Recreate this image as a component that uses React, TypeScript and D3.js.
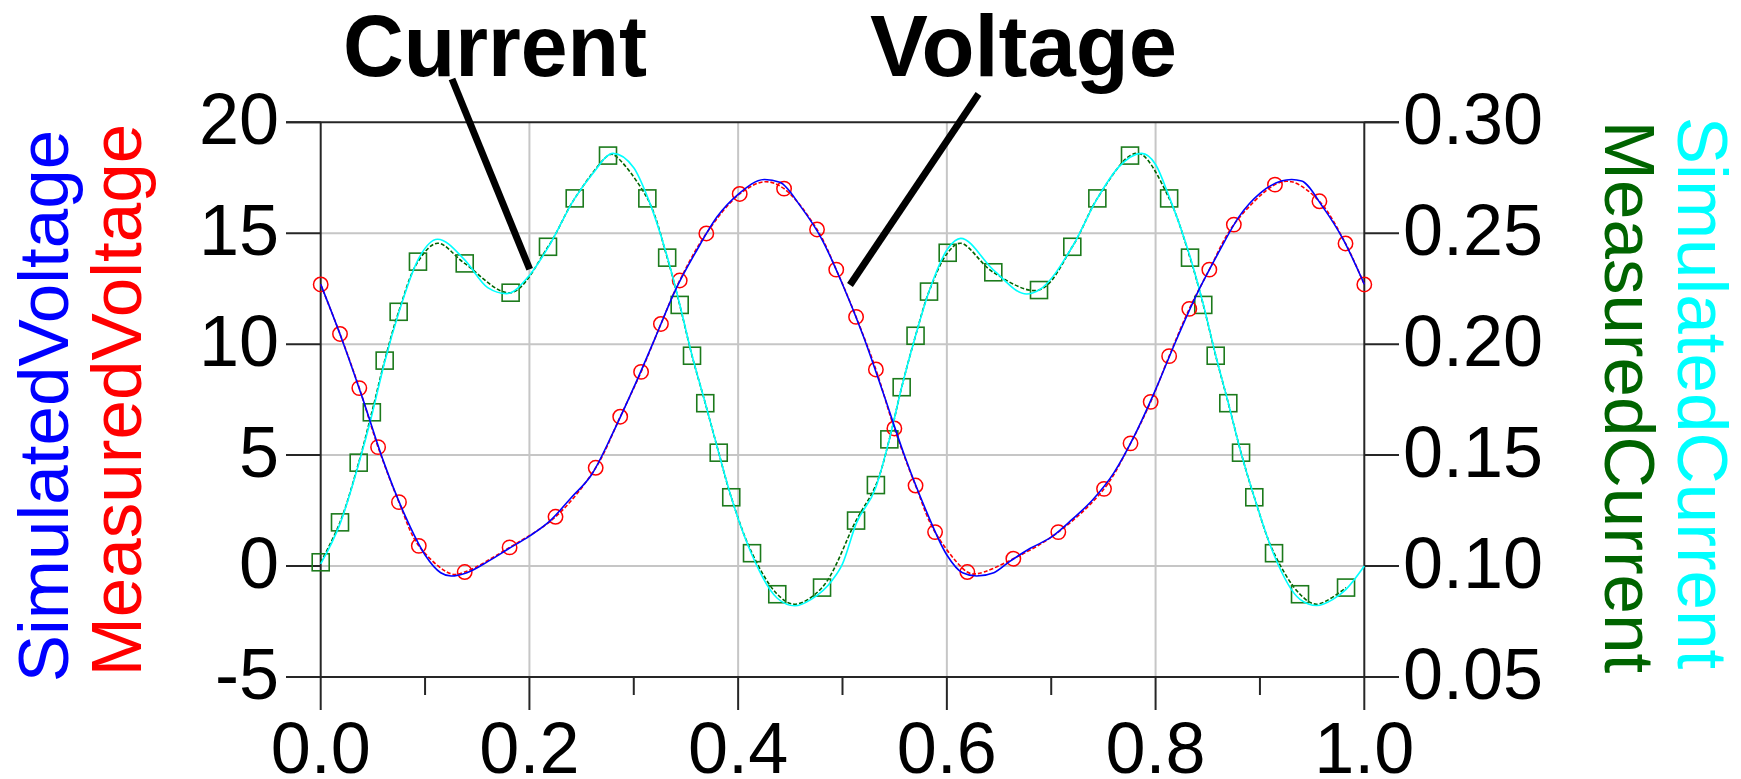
import React from "react";
import * as d3 from "d3";

// ---- data -------------------------------------------------------------
// Measured voltage samples (markers)
const measuredVoltageX = [0, 0.0185, 0.037, 0.055, 0.075, 0.094, 0.138, 0.181, 0.225, 0.2635, 0.287, 0.307, 0.326, 0.344, 0.3695, 0.4015, 0.444, 0.4756, 0.494, 0.513, 0.532, 0.5497, 0.57, 0.5887, 0.6196, 0.6637, 0.7068, 0.7506, 0.776, 0.7953, 0.813, 0.8323, 0.8515, 0.875, 0.9144, 0.957, 0.982, 1.0];
const measuredVoltageY = [12.69, 10.46, 8.02, 5.36, 2.88, 0.91, -0.27, 0.84, 2.22, 4.43, 6.73, 8.75, 10.91, 12.87, 14.99, 16.77, 17.01, 15.17, 13.36, 11.23, 8.86, 6.2, 3.63, 1.53, -0.27, 0.33, 1.53, 3.48, 5.53, 7.4, 9.46, 11.59, 13.36, 15.39, 17.19, 16.44, 14.54, 12.69];
// extra points of the measured voltage trace between markers
const measuredVoltageTraceX = [0.125, 0.4254, 0.6286, 0.9304];
const measuredVoltageTraceY = [-0.35, 17.32, -0.35, 17.32];

// Measured current samples (markers)
const measuredCurrentX = [0, 0.0185, 0.0364, 0.049, 0.0613, 0.0747, 0.0932, 0.138, 0.182, 0.2178, 0.2434, 0.2753, 0.313, 0.332, 0.344, 0.3558, 0.3685, 0.3814, 0.3934, 0.4133, 0.4375, 0.4804, 0.513, 0.532, 0.5449, 0.5567, 0.57, 0.5829, 0.6008, 0.6445, 0.6883, 0.7202, 0.7442, 0.7755, 0.813, 0.833, 0.8457, 0.8576, 0.8697, 0.8819, 0.8946, 0.9135, 0.9384, 0.9825];
const measuredCurrentY = [0.1017, 0.1197, 0.1466, 0.1693, 0.1926, 0.2146, 0.2372, 0.2364, 0.2232, 0.2439, 0.2657, 0.285, 0.2657, 0.239, 0.2177, 0.1948, 0.1734, 0.1511, 0.131, 0.1058, 0.0873, 0.0903, 0.1205, 0.1365, 0.1571, 0.1806, 0.2038, 0.2237, 0.2412, 0.2324, 0.2244, 0.2439, 0.2657, 0.285, 0.2657, 0.239, 0.2177, 0.1948, 0.1734, 0.1511, 0.131, 0.1058, 0.0873, 0.0903];
// extra points of the measured current trace between markers
const measuredCurrentTraceX = [0.112, 0.2801, 0.4542, 0.6133, 0.7866, 0.9544];
const measuredCurrentTraceY = [0.2455, 0.2855, 0.0828, 0.2455, 0.2855, 0.0828];

// Simulated voltage
const simulatedVoltageX = [0, 0.02, 0.04, 0.06, 0.08, 0.1, 0.115, 0.125, 0.14, 0.16, 0.18, 0.2, 0.22, 0.24, 0.26, 0.28, 0.3, 0.32, 0.34, 0.36, 0.38, 0.4, 0.4254, 0.44, 0.46, 0.48, 0.5, 0.52, 0.54, 0.56, 0.58, 0.6, 0.615, 0.6286, 0.645, 0.66, 0.68, 0.7, 0.72, 0.74, 0.76, 0.78, 0.8, 0.82, 0.84, 0.86, 0.88, 0.9, 0.9304, 0.94, 0.96, 0.98, 1.0];
const simulatedVoltageY = [12.7, 10.26, 7.58, 4.74, 2.36, 0.5, -0.3, -0.45, -0.3, 0.2, 0.78, 1.35, 2.05, 3.08, 4.15, 6.0, 8.05, 10.23, 12.45, 14.2, 15.75, 16.75, 17.42, 17.3, 16.2, 14.75, 12.7, 10.36, 7.66, 4.9, 2.51, 0.5, -0.3, -0.45, -0.3, 0.2, 0.8, 1.3, 2.1, 3.0, 4.2, 5.9, 7.95, 10.2, 12.3, 14.1, 15.75, 16.8, 17.42, 17.35, 16.2, 14.7, 12.7];

// Simulated current
const simulatedCurrentX = [0, 0.0185, 0.0364, 0.049, 0.0613, 0.0747, 0.0932, 0.112, 0.138, 0.16, 0.178, 0.2, 0.2178, 0.2434, 0.26, 0.2801, 0.3, 0.313, 0.332, 0.344, 0.3558, 0.3685, 0.3814, 0.3934, 0.4133, 0.4375, 0.4542, 0.47, 0.49, 0.5, 0.513, 0.532, 0.5449, 0.5567, 0.57, 0.5829, 0.6008, 0.6133, 0.6445, 0.6765, 0.6883, 0.7202, 0.7442, 0.765, 0.7866, 0.8, 0.813, 0.833, 0.8457, 0.8576, 0.8697, 0.8819, 0.8946, 0.9135, 0.9384, 0.9544, 0.97, 0.9825, 1.0];
const simulatedCurrentY = [0.101, 0.119, 0.146, 0.168, 0.192, 0.214, 0.238, 0.2473, 0.238, 0.2255, 0.2228, 0.231, 0.2435, 0.2657, 0.2765, 0.286, 0.2795, 0.2665, 0.2395, 0.218, 0.195, 0.1735, 0.151, 0.131, 0.105, 0.0855, 0.0821, 0.085, 0.0935, 0.101, 0.119, 0.1355, 0.1571, 0.1806, 0.2038, 0.2237, 0.243, 0.2477, 0.2335, 0.2226, 0.2244, 0.2439, 0.2657, 0.28, 0.286, 0.281, 0.2665, 0.2395, 0.218, 0.195, 0.1735, 0.151, 0.131, 0.105, 0.085, 0.0822, 0.085, 0.0895, 0.1];

// Axis ticks
const xMajorTicks = [0, 0.2, 0.4, 0.6, 0.8, 1.0];
const xMinorTicks = [0.1, 0.3, 0.5, 0.7, 0.9];
const voltageTicks = [-5, 0, 5, 10, 15, 20];
const currentTicks = [0.05, 0.1, 0.15, 0.2, 0.25, 0.3];

// ---- layout -----------------------------------------------------------
const W = 1741;
const H = 779;
const left = 320.7;
const right = 1364.3;
const top = 122.3;
const bottom = 677;
const FONT = "'Liberation Sans', Arial, Helvetica, sans-serif";

const x = d3.scaleLinear().domain([0, 1]).range([left, right]);
const yV = d3.scaleLinear().domain([-5, 20]).range([bottom, top]);
const yI = d3.scaleLinear().domain([0.05, 0.3]).range([bottom, top]);

const zip = (xs: number[], ys: number[]) => xs.map((v, i) => [v, ys[i]] as [number, number]);
const merged = (a: [number, number][], b: [number, number][]) =>
  [...a, ...b].sort((p, q) => p[0] - q[0]);

const lineV = (curve: d3.CurveFactory) =>
  d3.line<[number, number]>().x((d) => x(d[0])).y((d) => yV(d[1])).curve(curve);
const lineI = (curve: d3.CurveFactory) =>
  d3.line<[number, number]>().x((d) => x(d[0])).y((d) => yI(d[1])).curve(curve);

export default function App() {
  const mv = zip(measuredVoltageX, measuredVoltageY);
  const mc = zip(measuredCurrentX, measuredCurrentY);
  const mvTrace = merged(mv, zip(measuredVoltageTraceX, measuredVoltageTraceY));
  const mcTrace = merged(mc, zip(measuredCurrentTraceX, measuredCurrentTraceY));
  const sv = zip(simulatedVoltageX, simulatedVoltageY);
  const sc = zip(simulatedCurrentX, simulatedCurrentY);

  const axisColor = "#262626";
  const gridColor = "#c6c6c6";
  const sq = 17;

  return (
    <svg
      width={W}
      height={H}
      viewBox={`0 0 ${W} ${H}`}
      style={{ position: "absolute", left: 0, top: 0, background: "#fff" }}
      fontFamily={FONT}
    >
      <rect x={0} y={0} width={W} height={H} fill="#fff" />

      {/* grid */}
      {voltageTicks.filter((t) => t > -5 && t < 20).map((t) => (
        <line key={"gy" + t} x1={left} x2={right} y1={yV(t)} y2={yV(t)} stroke={gridColor} strokeWidth={2} />
      ))}
      {xMajorTicks.filter((t) => t > 0 && t < 1).map((t) => (
        <line key={"gx" + t} x1={x(t)} x2={x(t)} y1={top} y2={bottom} stroke={gridColor} strokeWidth={2} />
      ))}

      {/* frame and axes */}
      <line x1={286} x2={1399} y1={top} y2={top} stroke={axisColor} strokeWidth={2} />
      <line x1={286} x2={1399} y1={bottom} y2={bottom} stroke={axisColor} strokeWidth={2} />
      <line x1={left} x2={left} y1={top} y2={bottom} stroke={axisColor} strokeWidth={2} />
      <line x1={right} x2={right} y1={top} y2={bottom} stroke={axisColor} strokeWidth={2} />

      {voltageTicks.map((t) => (
        <g key={"lt" + t}>
          <line x1={286} x2={left} y1={yV(t)} y2={yV(t)} stroke={axisColor} strokeWidth={2} />
          <text x={279} y={yV(t) + 22} fontSize={72} textAnchor="end" fill="#000">
            {t}
          </text>
        </g>
      ))}
      {currentTicks.map((t) => (
        <g key={"rt" + t}>
          <line x1={right} x2={1399} y1={yI(t)} y2={yI(t)} stroke={axisColor} strokeWidth={2} />
          <text x={1403} y={yI(t) + 22} fontSize={72} textAnchor="start" fill="#000">
            {t.toFixed(2)}
          </text>
        </g>
      ))}
      {xMajorTicks.map((t) => (
        <g key={"bt" + t}>
          <line x1={x(t)} x2={x(t)} y1={bottom} y2={bottom + 33} stroke={axisColor} strokeWidth={2} />
          <text x={x(t)} y={773} fontSize={72} textAnchor="middle" fill="#000">
            {t.toFixed(1)}
          </text>
        </g>
      ))}
      {xMinorTicks.map((t) => (
        <line key={"mt" + t} x1={x(t)} x2={x(t)} y1={bottom} y2={bottom + 18} stroke={axisColor} strokeWidth={2} />
      ))}

      {/* measured traces */}
      <path d={lineV(d3.curveCatmullRom)(mvTrace) ?? ""} fill="none" stroke="#ff0000" strokeWidth={1.6} strokeDasharray="4 2" />
      <path d={lineI(d3.curveCatmullRom)(mcTrace) ?? ""} fill="none" stroke="#006400" strokeWidth={1.6} strokeDasharray="4 2" />

      {/* measured markers */}
      {mc.map((d, i) => (
        <rect
          key={"sq" + i}
          x={x(d[0]) - sq / 2}
          y={yI(d[1]) - sq / 2}
          width={sq}
          height={sq}
          fill="none"
          stroke="#1c7a1c"
          strokeWidth={1.6}
        />
      ))}
      {mv.map((d, i) => (
        <circle key={"c" + i} cx={x(d[0])} cy={yV(d[1])} r={7.2} fill="none" stroke="#ff0000" strokeWidth={1.5} />
      ))}

      {/* simulated traces */}
      <path d={lineI(d3.curveMonotoneX)(sc) ?? ""} fill="none" stroke="#00ffff" strokeWidth={1.6} />
      <path d={lineV(d3.curveMonotoneX)(sv) ?? ""} fill="none" stroke="#0000ff" strokeWidth={1.6} />

      {/* axis titles */}
      <text transform="translate(68,406) rotate(-90)" fontSize={71} textAnchor="middle" fill="#0000ff">
        SimulatedVoltage
      </text>
      <text transform="translate(141,400) rotate(-90)" fontSize={71} textAnchor="middle" fill="#ff0000">
        MeasuredVoltage
      </text>
      <text transform="translate(1605,397) rotate(90)" fontSize={71} textAnchor="middle" fill="#006400">
        MeasuredCurrent
      </text>
      <text transform="translate(1678,393) rotate(90)" fontSize={71} textAnchor="middle" fill="#00ffff">
        SimulatedCurrent
      </text>

      {/* annotations */}
      <text x={343} y={76} fontSize={88} fontWeight="bold" textLength={304} lengthAdjust="spacingAndGlyphs" fill="#000">
        Current
      </text>
      <text x={870} y={76} fontSize={88} fontWeight="bold" textLength={307} lengthAdjust="spacingAndGlyphs" fill="#000">
        Voltage
      </text>
      <line x1={452} y1={79} x2={529.7} y2={269.3} stroke="#000" strokeWidth={7} />
      <line x1={978.5} y1={94} x2={850} y2={285} stroke="#000" strokeWidth={7} />
    </svg>
  );
}
